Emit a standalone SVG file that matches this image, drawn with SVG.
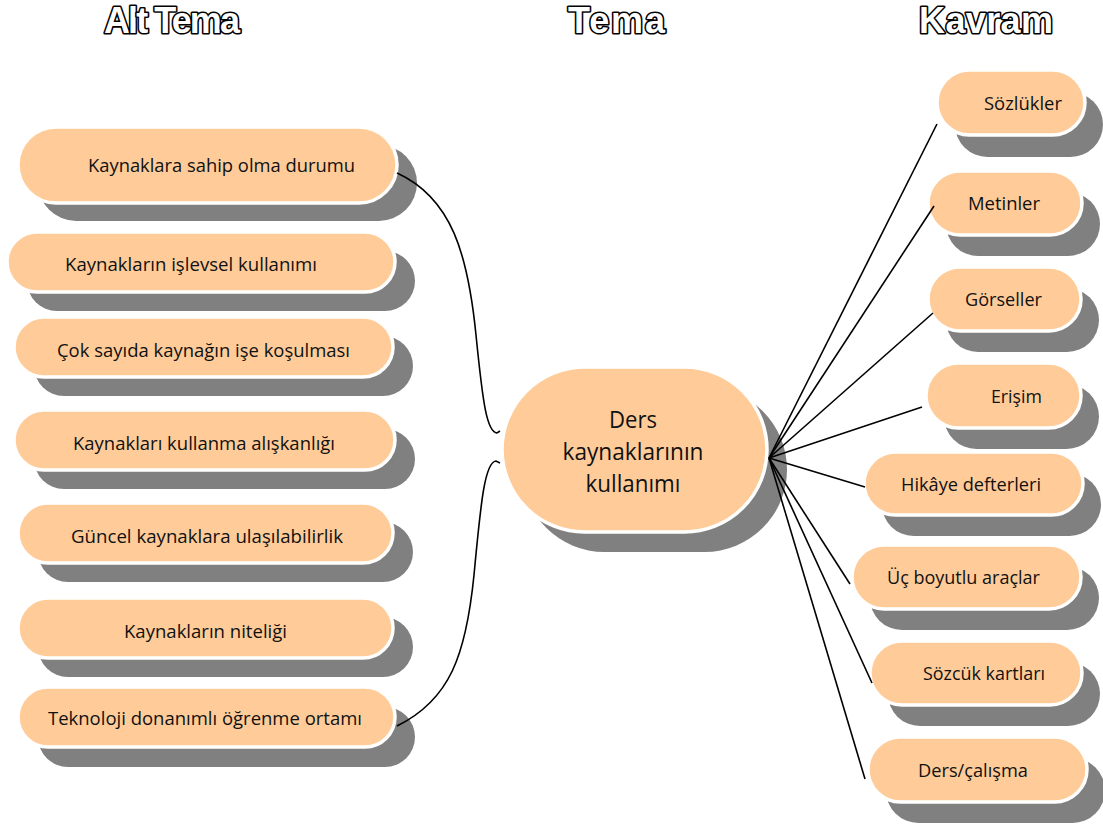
<svg xmlns="http://www.w3.org/2000/svg" width="1103" height="828" viewBox="0 0 1103 828">
  <style>
    .shadow { fill: #808080; }
    .pill { fill: #FFCC99; stroke: #FFFFFF; stroke-width: 3.5; }
    .lbl { font-family: "Open Sans", "Noto Sans", "DejaVu Sans", sans-serif; font-size: 18px; fill: #111; }
    .big { font-family: "Open Sans", "Noto Sans", "DejaVu Sans", sans-serif; font-size: 23px; fill: #111; text-anchor: middle; }
    .head { font-family: "Liberation Sans", Arial, sans-serif; font-weight: bold; font-size: 36px; fill: #FFFFFF; stroke: #000; stroke-width: 3.2; stroke-linejoin: round; paint-order: stroke; }
    .wire { fill: none; stroke: #000; stroke-width: 1.6; }
  </style>

  <rect width="1103" height="828" fill="#FFFFFF"/>

  <!-- column headings -->
  <g id="headings">
    <text class="head" x="104" y="33" textLength="136" lengthAdjust="spacing">Alt Tema</text>
    <text class="head" x="568" y="33" textLength="97" lengthAdjust="spacing">Tema</text>
    <text class="head" x="919" y="33" textLength="134" lengthAdjust="spacing">Kavram</text>
  </g>

  <!-- left column -->
  <g id="alt-1">
    <rect class="shadow" x="38" y="145" width="379" height="76" rx="38"/>
    <rect class="pill" x="18" y="127" width="379" height="76" rx="38"/>
    <text class="lbl" x="88" y="172" textLength="267" lengthAdjust="spacingAndGlyphs">Kaynaklara sahip olma durumu</text>
  </g>
  <g id="alt-2">
    <rect class="shadow" x="27" y="251" width="388" height="60" rx="30"/>
    <rect class="pill" x="7" y="232" width="388" height="60" rx="30"/>
    <text class="lbl" x="65" y="271" textLength="252" lengthAdjust="spacingAndGlyphs">Kaynakların işlevsel kullanımı</text>
  </g>
  <g id="alt-3">
    <rect class="shadow" x="34" y="336" width="379" height="60" rx="30"/>
    <rect class="pill" x="14" y="317" width="379" height="60" rx="30"/>
    <text class="lbl" x="57" y="357" textLength="293" lengthAdjust="spacingAndGlyphs">Çok sayıda kaynağın işe koşulması</text>
  </g>
  <g id="alt-4">
    <rect class="shadow" x="34" y="429" width="381" height="60" rx="30"/>
    <rect class="pill" x="14" y="410" width="381" height="60" rx="30"/>
    <text class="lbl" x="73" y="450" textLength="262" lengthAdjust="spacingAndGlyphs">Kaynakları kullanma alışkanlığı</text>
  </g>
  <g id="alt-5">
    <rect class="shadow" x="38" y="522" width="375" height="60" rx="30"/>
    <rect class="pill" x="18" y="503" width="375" height="60" rx="30"/>
    <text class="lbl" x="71" y="543" textLength="272" lengthAdjust="spacingAndGlyphs">Güncel kaynaklara ulaşılabilirlik</text>
  </g>
  <g id="alt-6">
    <rect class="shadow" x="38" y="617" width="375" height="60" rx="30"/>
    <rect class="pill" x="18" y="598" width="375" height="60" rx="30"/>
    <text class="lbl" x="124" y="638" textLength="163" lengthAdjust="spacingAndGlyphs">Kaynakların niteliği</text>
  </g>
  <g id="alt-7">
    <rect class="shadow" x="38" y="707" width="377" height="60" rx="30"/>
    <rect class="pill" x="18" y="687" width="377" height="60" rx="30"/>
    <text class="lbl" x="48" y="725" textLength="314" lengthAdjust="spacingAndGlyphs">Teknoloji donanımlı öğrenme ortamı</text>
  </g>

  <!-- central theme -->
  <g id="tema">
    <rect class="shadow" x="522" y="387" width="265" height="165" rx="82.5"/>
    <rect class="pill" x="502" y="367" width="265" height="165" rx="82.5"/>
    <text class="big" x="633" y="428" textLength="48" lengthAdjust="spacingAndGlyphs">Ders</text>
    <text class="big" x="633" y="460" textLength="141" lengthAdjust="spacingAndGlyphs">kaynaklarının</text>
    <text class="big" x="633" y="492" textLength="95" lengthAdjust="spacingAndGlyphs">kullanımı</text>
  </g>

  <!-- right column -->
  <g id="kavram-1">
    <rect class="shadow" x="955" y="92" width="148" height="65" rx="32.5"/>
    <rect class="pill" x="937" y="70" width="148" height="65" rx="32.5"/>
    <text class="lbl" x="984" y="110" textLength="78" lengthAdjust="spacingAndGlyphs">Sözlükler</text>
  </g>
  <g id="kavram-2">
    <rect class="shadow" x="946" y="192" width="154" height="64" rx="32"/>
    <rect class="pill" x="928" y="171" width="154" height="64" rx="32"/>
    <text class="lbl" x="968" y="210" textLength="72" lengthAdjust="spacingAndGlyphs">Metinler</text>
  </g>
  <g id="kavram-3">
    <rect class="shadow" x="946" y="288" width="153" height="64" rx="32"/>
    <rect class="pill" x="928" y="267" width="153" height="64" rx="32"/>
    <text class="lbl" x="965" y="306" textLength="77" lengthAdjust="spacingAndGlyphs">Görseller</text>
  </g>
  <g id="kavram-4">
    <rect class="shadow" x="944" y="384" width="155" height="65" rx="32.5"/>
    <rect class="pill" x="926" y="363" width="155" height="65" rx="32.5"/>
    <text class="lbl" x="991" y="403" textLength="51" lengthAdjust="spacingAndGlyphs">Erişim</text>
  </g>
  <g id="kavram-5">
    <rect class="shadow" x="882" y="473" width="219" height="63" rx="31.5"/>
    <rect class="pill" x="864" y="452" width="219" height="63" rx="31.5"/>
    <text class="lbl" x="901" y="491" textLength="140" lengthAdjust="spacingAndGlyphs">Hikâye defterleri</text>
  </g>
  <g id="kavram-6">
    <rect class="shadow" x="870" y="566" width="229" height="64" rx="32"/>
    <rect class="pill" x="852" y="545" width="229" height="64" rx="32"/>
    <text class="lbl" x="887" y="584" textLength="153" lengthAdjust="spacingAndGlyphs">Üç boyutlu araçlar</text>
  </g>
  <g id="kavram-7">
    <rect class="shadow" x="888" y="662" width="212" height="64" rx="32"/>
    <rect class="pill" x="870" y="641" width="212" height="64" rx="32"/>
    <text class="lbl" x="923" y="680" textLength="122" lengthAdjust="spacingAndGlyphs">Sözcük kartları</text>
  </g>
  <g id="kavram-8">
    <rect class="shadow" x="886" y="758" width="219" height="65" rx="32.5"/>
    <rect class="pill" x="868" y="737" width="219" height="65" rx="32.5"/>
    <text class="lbl" x="918" y="777" textLength="110" lengthAdjust="spacingAndGlyphs">Ders/çalışma</text>
  </g>

  <!-- connectors, drawn over the shadows -->
  <g id="connectors">
    <path class="wire" d="M397,173 C452,198 468,255 476,335 C483,405 487,432 497,433 L500,431"/>
    <path class="wire" d="M397,726 C450,700 466,655 474,575 C481,500 485,462 496,461 L500,463"/>
    <line class="wire" x1="769" y1="458" x2="937" y2="124"/>
    <line class="wire" x1="769" y1="458" x2="934" y2="206"/>
    <line class="wire" x1="769" y1="458" x2="933" y2="313"/>
    <line class="wire" x1="769" y1="458" x2="922" y2="407"/>
    <line class="wire" x1="769" y1="458" x2="865" y2="487"/>
    <line class="wire" x1="769" y1="458" x2="850" y2="584"/>
    <line class="wire" x1="769" y1="458" x2="872" y2="683"/>
    <line class="wire" x1="769" y1="458" x2="865" y2="779"/>
  </g>
</svg>
